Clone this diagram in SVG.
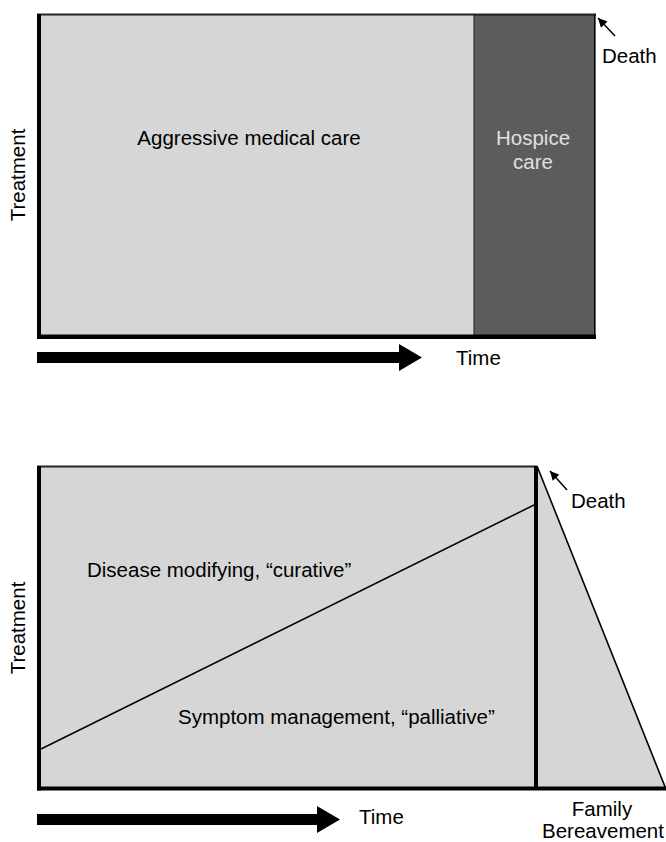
<svg xmlns="http://www.w3.org/2000/svg" width="666" height="842" viewBox="0 0 666 842">
<defs>
<style>
text{font-family:"Liberation Sans",Arial,Helvetica,sans-serif;font-size:20.5px;fill:#000}
.light{fill:#d6d6d6}
.dark{fill:#5c5c5c}
.ink{fill:#000}
.thin{stroke:#000;stroke-width:1.5;fill:none}
</style>
<marker id="ah" viewBox="0 0 10 10" refX="10" refY="5" markerWidth="10" markerHeight="9" markerUnits="userSpaceOnUse" orient="auto">
<path d="M0,0 L10,5 L0,10 z" fill="#000"/>
</marker>
</defs>
<rect width="666" height="842" fill="#fff"/>

<g id="top-chart">
<rect class="light" x="41" y="15" width="433" height="320"/>
<g id="hospice">
<rect class="dark" x="474" y="15" width="121" height="320"/>
<text x="533" y="145" text-anchor="middle" style="fill:#e0e0e0">Hospice</text>
<text x="533" y="169" text-anchor="middle" style="fill:#e0e0e0">care</text>
</g>
<line x1="474" y1="15" x2="474" y2="335" stroke="#333" stroke-width="1.2"/>
<rect class="ink" x="37" y="13.5" width="559" height="2" fill-opacity="0.85"/>
<rect class="ink" x="594" y="14" width="1.6" height="322"/>
<rect class="ink" x="37" y="14" width="4" height="325"/>
<rect class="ink" x="37" y="334.5" width="559" height="4.5"/>
<g id="aggressive"><text x="249" y="145" text-anchor="middle">Aggressive medical care</text></g>
<text transform="translate(25,175) rotate(-90)" text-anchor="middle">Treatment</text>
<text x="456" y="365">Time</text>
<text x="602" y="63">Death</text>
</g>

<g id="bottom-chart">
<polygon class="light" points="41,467 537,467 665,787 41,787"/>
<line x1="537" y1="466" x2="665.5" y2="788" stroke="#000" stroke-width="1.6"/>
<rect class="ink" x="37" y="465.5" width="500" height="2" fill-opacity="0.85"/>
<rect class="ink" x="37" y="466" width="4" height="324.5"/>
<rect class="ink" x="37" y="786.5" width="629" height="4"/>
<rect class="ink" x="534" y="466" width="4" height="322"/>
<line class="thin" x1="41" y1="749" x2="534" y2="505"/>
<g id="curative"><text x="87" y="577">Disease modifying, “curative”</text></g>
<g id="palliative"><text x="178" y="724">Symptom management, “palliative”</text></g>
<text transform="translate(25,628) rotate(-90)" text-anchor="middle">Treatment</text>
<text x="359" y="824">Time</text>
<text x="571" y="508">Death</text>
<g id="bereavement">
<text x="602" y="816" text-anchor="middle">Family</text>
<text x="603" y="838" text-anchor="middle">Bereavement</text>
</g>
</g>

<g id="connectors">
<polygon class="ink" points="37,352 399,352 399,344 422,357.5 399,371 399,363 37,363"/>
<polygon class="ink" points="37,814 317,814 317,806 340,819.5 317,833 317,825 37,825"/>
<line x1="615" y1="36" x2="598" y2="18" stroke="#000" stroke-width="1.5" marker-end="url(#ah)"/>
<line x1="567" y1="490" x2="550" y2="471" stroke="#000" stroke-width="1.5" marker-end="url(#ah)"/>
</g>
</svg>
